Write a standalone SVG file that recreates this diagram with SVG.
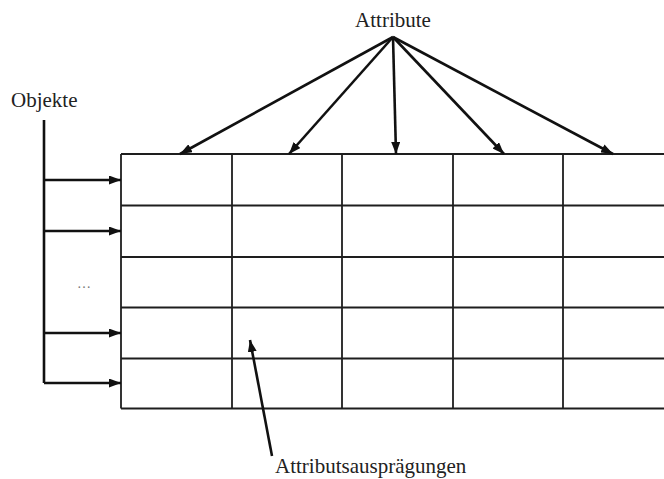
<svg xmlns="http://www.w3.org/2000/svg" width="664" height="479" viewBox="0 0 664 479">
  <style>
    .lbl { font-size: 21px; fill: #222; }
    .grid { stroke: #1e1e1e; stroke-width: 1.8; fill: none; }
    .conn { stroke: #111; stroke-width: 2.6; fill: none; }
  </style>
  <defs>
    <marker id="arrow" viewBox="0 0 12 9" refX="12" refY="4.5" markerWidth="12" markerHeight="9" markerUnits="userSpaceOnUse" orient="auto">
      <path d="M0,0 L12,4.5 L0,9 z" fill="#111"/>
    </marker>
  </defs>
  <rect width="664" height="479" fill="#fff"/>

  <!-- value table: five attribute columns, open to the right -->
  <g id="table">
    <path class="grid" d="M121,154 H664 M121,205.5 H664 M121,257 H664 M121,307.5 H664 M121,358.5 H664 M121,408.5 H664"/>
    <path class="grid" d="M121,154 V408.5 M232,154 V408.5 M342,154 V408.5 M453,154 V408.5 M563,154 V408.5"/>
  </g>

  <g id="label-attribute" font-family="Liberation Serif, Times New Roman, serif">
    <text class="lbl" x="393" y="27" text-anchor="middle">Attribute</text>
  </g>
  <g id="label-objekte" font-family="Liberation Serif, Times New Roman, serif">
    <text class="lbl" x="11" y="107">Objekte</text>
  </g>
  <g id="label-ellipsis" font-family="Liberation Serif, Times New Roman, serif">
    <text x="84" y="288" text-anchor="middle" font-size="14" fill="#777">…</text>
  </g>
  <g id="label-auspraegungen" font-family="Liberation Serif, Times New Roman, serif">
    <text class="lbl" x="275" y="473">Attributsausprägungen</text>
  </g>

  <g id="connectors">
    <!-- attributes fan out to the columns -->
    <line class="conn" x1="393" y1="37" x2="180" y2="154" marker-end="url(#arrow)"/>
    <line class="conn" x1="393" y1="37" x2="289" y2="154" marker-end="url(#arrow)"/>
    <line class="conn" x1="393" y1="37" x2="396" y2="154" marker-end="url(#arrow)"/>
    <line class="conn" x1="393" y1="37" x2="504" y2="154" marker-end="url(#arrow)"/>
    <line class="conn" x1="393" y1="37" x2="613" y2="154" marker-end="url(#arrow)"/>
    <!-- objects bracket feeding the rows -->
    <path class="conn" d="M44,120 V383"/>
    <line class="conn" x1="44" y1="180" x2="121" y2="180" marker-end="url(#arrow)"/>
    <line class="conn" x1="44" y1="231" x2="121" y2="231" marker-end="url(#arrow)"/>
    <line class="conn" x1="44" y1="333" x2="121" y2="333" marker-end="url(#arrow)"/>
    <line class="conn" x1="44" y1="383" x2="121" y2="383" marker-end="url(#arrow)"/>
    <!-- value pointer -->
    <line class="conn" x1="272" y1="456" x2="250" y2="340" marker-end="url(#arrow)"/>
  </g>
</svg>
